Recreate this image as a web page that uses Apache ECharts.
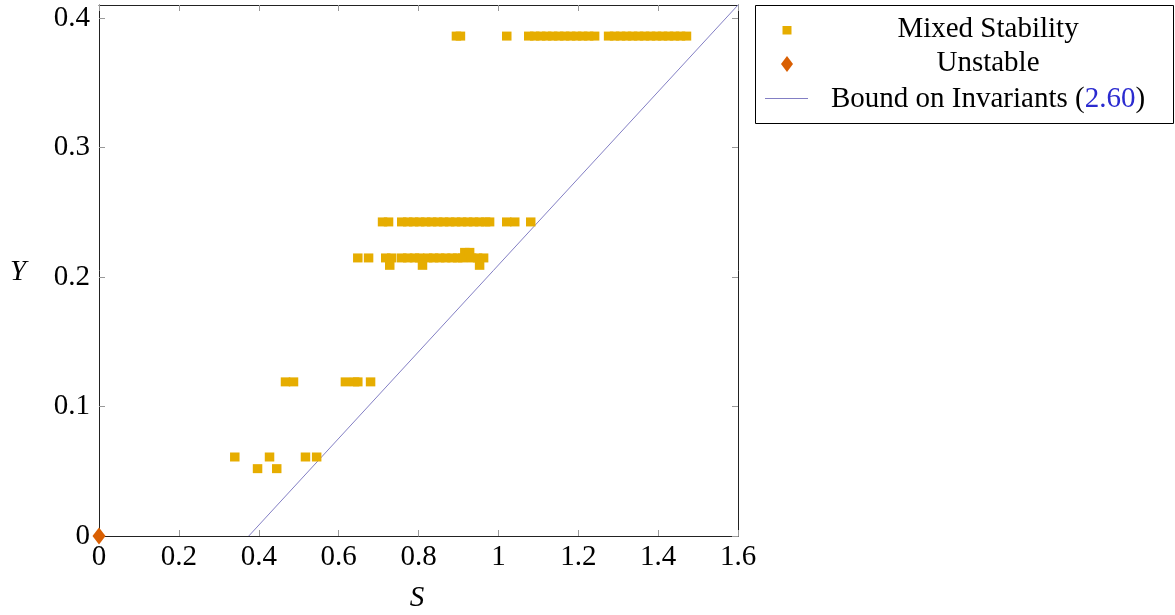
<!DOCTYPE html>
<html>
<head>
<meta charset="utf-8">
<script src="https://cdn.jsdelivr.net/npm/echarts@6/dist/echarts.min.js"></script>
<style>html,body{margin:0;padding:0;background:#fff}#c{width:1175px;height:615px}</style>
</head>
<body>
<div id="c"></div>
<script>
// ---- data ----
const xTicks = [0, 0.2, 0.4, 0.6, 0.8, 1, 1.2, 1.4, 1.6];
const yTicks = [0, 0.1, 0.2, 0.3, 0.4];

const mixedS = [
  0.340, 0.427, 0.517, 0.545,
  0.397, 0.445,
  0.467, 0.487, 0.617, 0.640, 0.648, 0.680,
  0.648, 0.675, 0.718, 0.733, 0.758, 0.773, 0.790, 0.803, 0.823, 0.838, 0.853, 0.868, 0.884, 0.898, 0.910, 0.933, 0.948, 0.963,
  0.728, 0.810, 0.953,
  0.916, 0.928,
  0.710, 0.725, 0.758, 0.773, 0.788, 0.803, 0.818, 0.833, 0.848, 0.863, 0.878, 0.893, 0.908, 0.923, 0.938, 0.953, 0.968, 0.978, 1.021, 1.041, 1.081,
  0.895, 0.905, 1.021, 1.076, 1.091, 1.106, 1.121, 1.136, 1.151, 1.166, 1.181, 1.196, 1.211, 1.226, 1.241,
  1.276, 1.291, 1.306, 1.321, 1.336, 1.351, 1.366, 1.381, 1.396, 1.411, 1.426, 1.441, 1.456, 1.471
];
const mixedY = [
  0.061, 0.061, 0.061, 0.061,
  0.052, 0.052,
  0.119, 0.119, 0.119, 0.119, 0.119, 0.119,
  0.2147, 0.2147, 0.2147, 0.2147, 0.2147, 0.2147, 0.2147, 0.2147, 0.2147, 0.2147, 0.2147, 0.2147, 0.2147, 0.2147, 0.2147, 0.2147, 0.2147, 0.2147,
  0.209, 0.209, 0.209,
  0.219, 0.219,
  0.2425, 0.2425, 0.2425, 0.2425, 0.2425, 0.2425, 0.2425, 0.2425, 0.2425, 0.2425, 0.2425, 0.2425, 0.2425, 0.2425, 0.2425, 0.2425, 0.2425, 0.2425, 0.2425, 0.2425, 0.2425,
  0.386, 0.386, 0.386, 0.386, 0.386, 0.386, 0.386, 0.386, 0.386, 0.386, 0.386, 0.386, 0.386, 0.386, 0.386,
  0.386, 0.386, 0.386, 0.386, 0.386, 0.386, 0.386, 0.386, 0.386, 0.386, 0.386, 0.386, 0.386, 0.386
];
const unstableS = [0];
const unstableY = [0];
const boundS = [0.375, 1.6];
const boundY = [0, 0.41];
const boundValue = '2.60';

const seriesNames = ['Mixed Stability', 'Unstable', 'Bound on Invariants'];

// ---- chart ----
const FONT = '"Liberation Serif", "DejaVu Serif", serif';
const FS = 29;
const C_MIX = '#E6AD00', C_UNS = '#D95F02', C_LINE = '#837FC4';

const chart = echarts.init(document.getElementById('c'), null, {renderer: 'canvas'});
const zip = (a, b) => a.map((v, i) => [v, b[i]]);

const axisCommon = {
  type: 'value',
  splitLine: {show: false},
  axisLine: {show: true, onZero: false, lineStyle: {color: '#222', width: 1}},
  axisTick: {show: true, inside: true, length: 6, lineStyle: {color: '#999', width: 1}},
};

chart.setOption({
  animation: false,
  grid: {left: 99, right: 437, top: 5, bottom: 79, containLabel: false},
  xAxis: [
    Object.assign({}, axisCommon, {
      min: 0, max: 1.6, interval: 0.2, position: 'bottom',
      axisTick: Object.assign({}, axisCommon.axisTick, {customValues: xTicks}),
      axisLabel: {customValues: xTicks, margin: 7, color: '#000', fontFamily: FONT, fontSize: FS,
        formatter: v => String(+v.toFixed(2))}
    }),
    Object.assign({}, axisCommon, {
      min: 0, max: 1.6, interval: 0.2, position: 'top',
      axisTick: Object.assign({}, axisCommon.axisTick, {customValues: xTicks}),
      axisLabel: {show: false}
    })
  ],
  yAxis: [
    Object.assign({}, axisCommon, {
      min: 0, max: 0.41, interval: 0.1, position: 'left',
      axisTick: Object.assign({}, axisCommon.axisTick, {customValues: yTicks}),
      axisLabel: {customValues: yTicks, margin: 9, color: '#000', fontFamily: FONT, fontSize: FS,
        formatter: v => String(+v.toFixed(2))}
    }),
    Object.assign({}, axisCommon, {
      min: 0, max: 0.41, interval: 0.1, position: 'right',
      axisTick: Object.assign({}, axisCommon.axisTick, {customValues: yTicks}),
      axisLabel: {show: false}
    })
  ],
  series: [
    {
      name: seriesNames[2], type: 'line', data: zip(boundS, boundY),
      symbol: 'none', lineStyle: {color: C_LINE, width: 1}, z: 3
    },
    {
      name: seriesNames[0], type: 'scatter', data: zip(mixedS, mixedY),
      symbol: 'rect', symbolSize: [9.5, 9], itemStyle: {color: C_MIX, opacity: 1}, z: 4
    },
    {
      name: seriesNames[1], type: 'scatter', data: zip(unstableS, unstableY), clip: false,
      symbol: 'diamond', symbolSize: [13, 17], itemStyle: {color: C_UNS, opacity: 1}, z: 5
    }
  ],
  graphic: [
    {type: 'text', x: 18, y: 272, style: {text: 'Y', font: 'italic ' + FS + 'px ' + FONT, fill: '#000', align: 'center', verticalAlign: 'middle'}},
    {type: 'text', x: 417, y: 598, style: {text: 'S', font: 'italic ' + FS + 'px ' + FONT, fill: '#000', align: 'center', verticalAlign: 'middle'}},
    // legend
    {type: 'rect', shape: {x: 755.5, y: 5.5, width: 418, height: 118}, style: {fill: '#fff', stroke: '#000', lineWidth: 1}, z: 10},
    {type: 'rect', shape: {x: 782.5, y: 26, width: 9, height: 8.5}, style: {fill: C_MIX}, z: 11},
    {type: 'polygon', shape: {points: [[787, 56], [793, 64], [787, 72], [781, 64]]}, style: {fill: C_UNS}, z: 11},
    {type: 'line', shape: {x1: 765, y1: 98.5, x2: 808, y2: 98.5}, style: {stroke: C_LINE, lineWidth: 1}, z: 11},
    {type: 'text', x: 988, y: 29, z: 11, style: {text: seriesNames[0], font: FS + 'px ' + FONT, fill: '#000', align: 'center', verticalAlign: 'middle'}},
    {type: 'text', x: 988, y: 63, z: 11, style: {text: seriesNames[1], font: FS + 'px ' + FONT, fill: '#000', align: 'center', verticalAlign: 'middle'}},
    {type: 'text', x: 988, y: 99, z: 11, style: {
      text: '{a|' + seriesNames[2] + ' (}{b|' + boundValue + '}{a|)}',
      align: 'center', verticalAlign: 'middle',
      rich: {a: {font: FS + 'px ' + FONT, fill: '#000'}, b: {font: FS + 'px ' + FONT, fill: '#2B2BD0'}}
    }}
  ]
});
</script>
</body>
</html>
